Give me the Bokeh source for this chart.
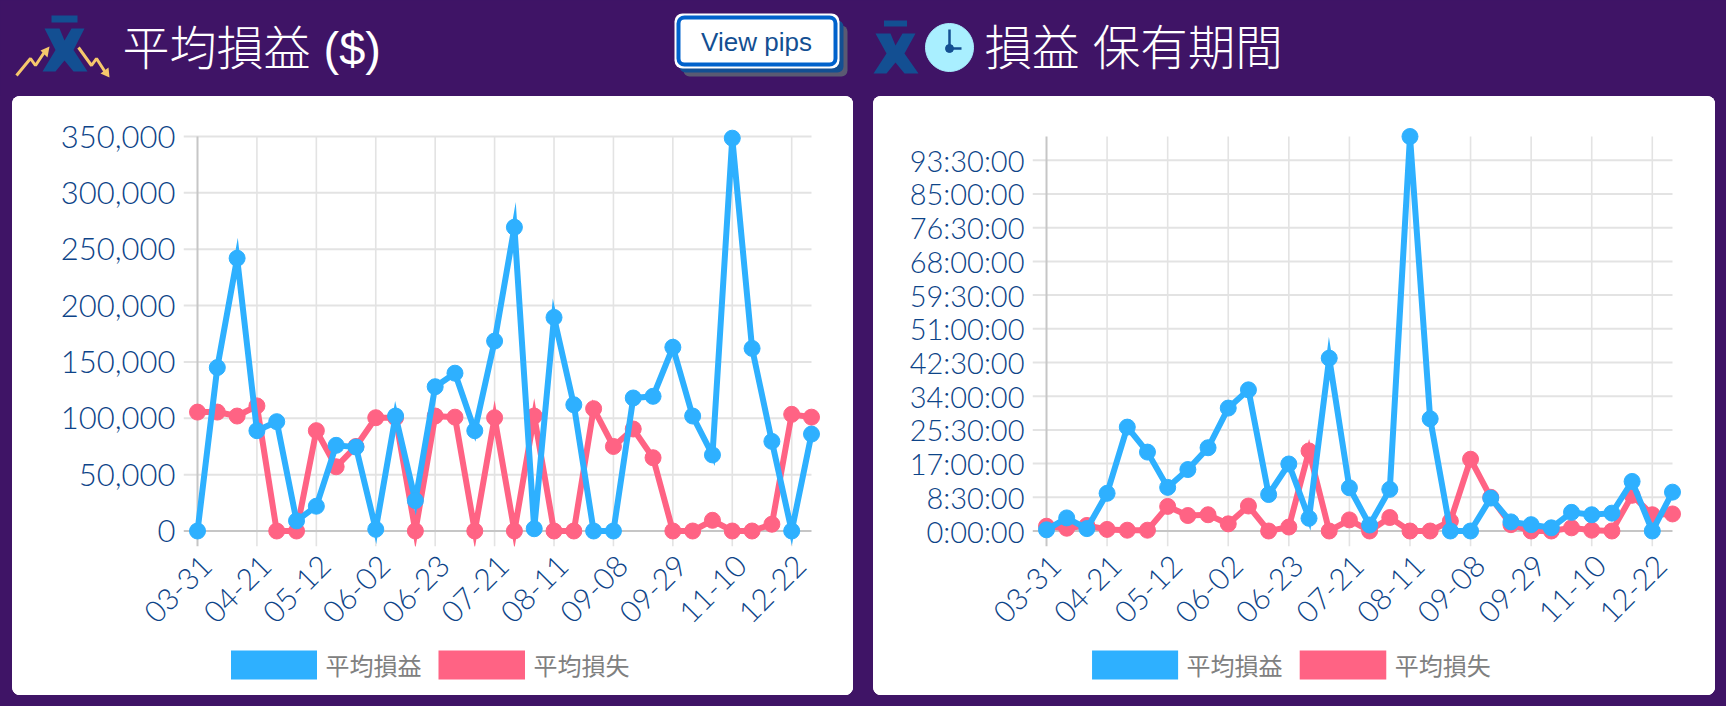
from math import pi
from bokeh.embed import file_html
from bokeh.resources import INLINE
from bokeh.plotting import figure
from bokeh.layouts import column, row
from bokeh.models import Range1d, FixedTicker, NumeralTickFormatter
from bokeh.core.properties import value

tick_labels = ["03-31","04-21","05-12","06-02","06-23","07-21","08-11","09-08","09-29","11-10","12-22"]
tick_index = [0,3,6,9,12,15,18,21,24,27,30]
week_index = list(range(32))

pnl_win = [0,145000,242000,89000,97000,9000,22000,76000,74500,1500,102000,27000,128000,140000,89000,168500,
           269500,2000,189500,112000,0,0,118000,119500,163000,102000,67500,348500,162000,79500,0,86000]
pnl_loss = [105500,105500,102000,111000,0,0,89000,57000,75000,100500,100500,0,102000,101000,0,100500,
            0,102000,0,0,108500,75000,90500,65000,0,0,9500,0,0,6000,103500,101000]
pnl_ticks = [0,50000,100000,150000,200000,250000,300000,350000]

hold_win = [0.3,3.3,0.6,9.5,26.2,19.9,11,15.5,21,31,35.6,9.2,16.9,3.2,43.6,10.9,
            1.5,10.5,99.5,28.3,0,0,8.3,2.3,1.6,0.8,4.7,4.1,4.5,12.5,0,9.8]
hold_loss = [1.2,0.7,1.4,0.4,0.2,0.2,6.2,3.9,4.1,1.8,6.3,0,1.0,20.2,0,2.8,
             0,3.4,0,0,2.5,18.1,8.5,1.6,0,0,0.8,0.2,0,9.0,4.1,4.3]
hold_ticks = [0,8.5,17,25.5,34,42.5,51,59.5,68,76.5,85,93.5]
hold_tick_labels = ["0:00:00","8:30:00","17:00:00","25:30:00","34:00:00","42:30:00","51:00:00","59:30:00",
                    "68:00:00","76:30:00","85:00:00","93:30:00"]
series_names = ["平均損益", "平均損失"]

PURPLE = "#3f1466"
BLUE = "#2eb0ff"
RED = "#ff6384"
NAVY = "#134f92"
AXIS_TEXT = "#0d4488"
FONT = "Lato Light, Lato"
LABEL_SHIFT = 0.46


def chart(width, left_px, right_px, y_top_val, ys, yticks, overrides, y_font):
    chart_h = 549
    top_px, zero_px = 40, 434.5
    pad, tick = 10, 14
    fl, fr = left_px - tick, right_px + pad
    ft, fb = top_px - pad, zero_px + 15.5
    xs = (right_px - left_px) / 31
    ysc = y_top_val / (zero_px - top_px)
    p = figure(width=width, height=chart_h, output_backend="svg", toolbar_location=None,
               x_range=Range1d(-tick / xs, 31 + pad / xs),
               y_range=Range1d(-(fb - zero_px) * ysc, y_top_val + pad * ysc),
               min_border_left=int(fl), min_border_right=int(width - fr),
               min_border_top=int(ft), min_border_bottom=int(chart_h - fb),
               background_fill_color="white", border_fill_color="white",
               outline_line_color="white", outline_line_width=2)
    p.grid.visible = False
    p.styles = {"background-color": "white"}

    ax = p.yaxis[0]
    ax.ticker = FixedTicker(ticks=yticks)
    ax.axis_line_color = None
    ax.major_tick_line_color = None
    ax.minor_tick_line_color = None
    ax.major_label_standoff = 2
    ax.major_label_text_font = FONT
    ax.major_label_text_font_size = y_font
    ax.major_label_text_color = AXIS_TEXT
    if overrides:
        ax.major_label_overrides = overrides
    else:
        ax.formatter = NumeralTickFormatter(format="0,0")

    shifted = [t + LABEL_SHIFT for t in tick_index]
    ax = p.xaxis[0]
    ax.ticker = FixedTicker(ticks=shifted)
    ax.major_label_overrides = dict(zip(shifted, tick_labels))
    ax.major_label_orientation = pi / 4
    ax.axis_line_color = None
    ax.major_tick_line_color = None
    ax.minor_tick_line_color = None
    ax.major_label_standoff = 8
    ax.major_label_text_font = FONT
    ax.major_label_text_font_size = "30px"
    ax.major_label_text_color = AXIS_TEXT

    y_low = -(fb - zero_px) * ysc
    x_low = -tick / xs
    p.segment(x0=x_low, x1=31, y0=[t for t in yticks if t], y1=[t for t in yticks if t],
              line_color="#e3e3e3", line_width=2)
    vert = [t for t in tick_index if t]
    p.segment(x0=vert, x1=vert, y0=y_low, y1=y_top_val, line_color="#e3e3e3", line_width=1.6)
    p.segment(x0=[x_low], x1=[31], y0=[0], y1=[0], line_color="#c6c6c6", line_width=2)
    p.segment(x0=[0], x1=[0], y0=[y_low], y1=[y_top_val], line_color="#c6c6c6", line_width=2)

    win, loss = ys
    p.line(week_index, loss, line_color=RED, line_width=6, line_join="miter")
    p.scatter(week_index, loss, size=16, color=RED)
    p.line(week_index, win, line_color=BLUE, line_width=6, line_join="miter")
    p.quad(left=x_low, right=31 + pad / xs, bottom=y_top_val + 1.5 * ysc, top=y_top_val + pad * ysc,
           fill_color="white", line_color=None)
    p.scatter(week_index, win, size=16, color=BLUE)
    return p


def legend_strip(width, frame_left, frame_right):
    # the column aligns this strip's frame with the chart's frame above it
    s = figure(width=width, height=50, output_backend="svg", toolbar_location=None,
               x_range=Range1d(frame_left, frame_right), y_range=Range1d(50, 0),
               x_axis_type=None, y_axis_type=None, min_border=0,
               background_fill_color="white", border_fill_color="white",
               outline_line_color="white", outline_line_width=2)
    s.grid.visible = False
    s.styles = {"background-color": "white"}
    s.quad(left=[218.5, 426], right=[304.5, 512.5], top=5, bottom=34, fill_color=[BLUE, RED], line_color=None)
    s.text([313, 521], [19, 19], text=series_names, text_font=value("Noto Sans CJK JP"), text_font_size="24px",
           text_color="#808080", text_baseline="middle", text_align="left")
    return s


left = chart(841, 185, 799, 350000, (pnl_win, pnl_loss), pnl_ticks, None, "31px")
right = chart(842, 173, 798.5, 99.5, (hold_win, hold_loss), hold_ticks,
              dict(zip(hold_ticks, hold_tick_labels)), "29px")
card = {"background-color": "white", "border-radius": "8px", "overflow": "hidden"}
left_col = column(left, legend_strip(841, 171, 809), spacing=0, styles=card)
right_col = column(right, legend_strip(842, 159, 808.5), spacing=0, styles=card)
left_col.margin = (0, 20, 0, 12)

h = figure(width=1726, height=96, output_backend="svg", toolbar_location=None,
           x_range=Range1d(0, 1726), y_range=Range1d(96, 0),
           x_axis_type=None, y_axis_type=None, min_border=0,
           background_fill_color=PURPLE, border_fill_color=PURPLE, outline_line_color=None)
h.grid.visible = False


def logo(cx, y0, y1, bar_y0, bar_y1, bar_w):
    m = (y0 + y1) / 2
    xs = [cx - 20, cx - 5, cx, cx + 7, cx + 20, cx + 9, cx + 23, cx + 9, cx, cx - 9, cx - 22, cx - 9]
    ys = [y0, y0, y0 + 12, y0, y0, m, y1, y1, y1 - 11, y1, y1, m]
    h.patch(xs, ys, fill_color=NAVY, line_color=None)
    h.quad(left=cx - bar_w / 2, right=cx + bar_w / 2, top=bar_y0, bottom=bar_y1, fill_color=NAVY, line_color=None)


logo(64, 28, 71, 15, 22, 26)
logo(895, 33, 73, 20, 26, 23)
YEL = "#f6c76c"
h.line([16, 30, 35, 43, 46], [75, 58, 65, 53, 50], line_color=YEL, line_width=3)
h.patch([49, 40, 47], [46, 50, 57], fill_color=YEL, line_color=None)
h.line([78, 91, 96, 105], [47, 65, 58, 72], line_color=YEL, line_width=3)
h.patch([109, 100, 108], [77, 73, 67], fill_color=YEL, line_color=None)

h.scatter([949], [47], size=48, color="#a9efff")
h.line([949, 949], [29, 48], line_color=NAVY, line_width=2.5)
h.line([949, 961], [48, 48], line_color=NAVY, line_width=2.5)
h.scatter([949], [48], size=8, color=NAVY)

TITLE_FONT = value("Liberation Sans, Noto Sans CJK JP Light, Noto Sans CJK JP")
h.text([122], [48], text=["平均損益 ($)"], text_font=TITLE_FONT, text_font_size="47px",
       text_color="white", text_baseline="middle", text_align="left")
h.text([984], [48], text=["損益 保有期間"], text_font=TITLE_FONT, text_font_size="47.5px",
       text_color="white", text_baseline="middle", text_align="left")

h.quad(left=683, right=847, top=25, bottom=76, fill_color="#5a5a72", line_color=None, border_radius=6)
h.quad(left=679, right=843, top=20, bottom=72, fill_color=NAVY, line_color=None, border_radius=6)
h.quad(left=674, right=839, top=13, bottom=68, fill_color="white", line_color=None, border_radius=8)
h.quad(left=678, right=835, top=17, bottom=64, fill_color="white", line_color="#0062cc", line_width=4, border_radius=6)
h.text([756], [41], text=["View pips"], text_font=value("Liberation Sans"), text_font_size="26px",
       text_color=NAVY, text_baseline="middle", text_align="center")

page = column(h, row(left_col, right_col, spacing=0), spacing=0)
html = file_html(page, INLINE)
html = html.replace("<head>", "<head><style>html,body{background:%s;overflow:hidden}</style>" % PURPLE, 1)
open("out.html", "w").write(html)
